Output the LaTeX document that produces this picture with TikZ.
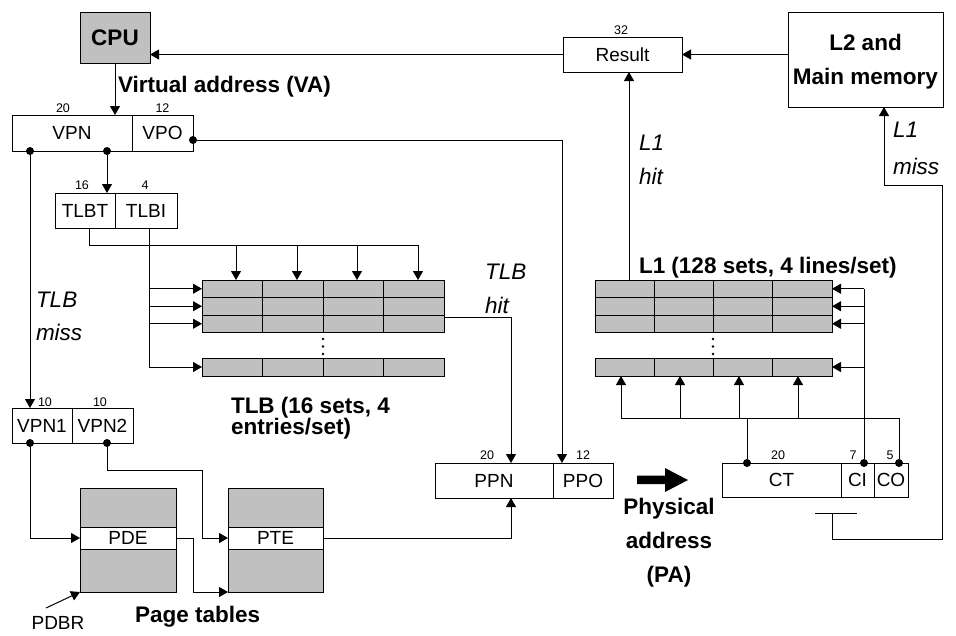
\documentclass[tikz,border=0pt]{standalone}
\usepackage{fontspec}
\setmainfont{Liberation Sans}
\usetikzlibrary{arrows.meta,calc}
\definecolor{cgray}{RGB}{192,192,192}
\newcommand\myreg{\fontsize{19}{22}\selectfont}
\newcommand\mynum{\fontsize{12.5}{14}\selectfont}
\newcommand\mybold{\fontsize{22.5}{27}\selectfont\bfseries}
\newcommand\myit{\fontsize{22.5}{26}\selectfont\itshape}
\begin{document}
\begin{tikzpicture}[x=1pt,y=-1pt,
  every node/.style={inner sep=0pt,outer sep=0pt,font=\myreg},
  box/.style={draw,line width=1pt,inner sep=0pt,anchor=center},
  ln/.style={line width=1pt},
  arr/.style={line width=1pt,-{Triangle[length=9pt,width=10pt]}},
  num/.style={font=\mynum},
  bld/.style={font=\mybold},
  itl/.style={font=\myit},
  dot/.style={circle,fill,inner sep=0pt,minimum size=8pt}]
\useasboundingbox (0,0) rectangle (956,635);

% ---------- boxes ----------
\node[box,fill=cgray,minimum width=70pt,minimum height=51pt,font=\mybold] (cpu) at (115,37.5) {CPU};
\node[box,minimum width=120pt,minimum height=36pt] (vpn) at (72,133) {VPN};
\node[box,minimum width=61pt,minimum height=36pt] (vpo) at (162.5,133) {VPO};
\node[box,minimum width=60pt,minimum height=35pt] (tlbt) at (85,210.5) {TLBT};
\node[box,minimum width=62pt,minimum height=35pt] (tlbi) at (146,210.5) {TLBI};
\node[box,minimum width=60pt,minimum height=35pt] (vpn1) at (42,425.5) {VPN1};
\node[box,minimum width=61pt,minimum height=35pt] (vpn2) at (102.5,425.5) {VPN2};
\node[box,minimum width=118pt,minimum height=35pt] (ppn) at (494,480.5) {PPN};
\node[box,minimum width=60pt,minimum height=35pt] (ppo) at (583,480.5) {PPO};
\node[box,minimum width=119pt,minimum height=34pt] (ct) at (781.5,480) {CT};
\node[box,minimum width=33pt,minimum height=34pt] (ci) at (857.5,480) {CI};
\node[box,minimum width=34pt,minimum height=34pt] (co) at (891,480) {CO};
\node[box,minimum width=119pt,minimum height=35pt] (result) at (622.5,54.5) {Result};
\node[box,minimum width=155pt,minimum height=95pt] (l2) at (865.5,59.5) {};
\node[align=center,font={\fontsize{22.5}{34}\selectfont\bfseries}] (l2t) at (865.5,62) {L2 and\\Main memory};

% page tables
\node[box,fill=cgray,minimum width=96pt,minimum height=104pt] (pdt) at (128,540) {};
\node[box,fill=white,minimum width=96pt,minimum height=22pt] (pde) at (128,538) {PDE};
\node[box,fill=cgray,minimum width=95pt,minimum height=104pt] (ptt) at (275.5,540) {};
\node[box,fill=white,minimum width=95pt,minimum height=22pt] (pte) at (275.5,538) {PTE};

% TLB rows
\node[box,fill=cgray,minimum width=242pt,minimum height=17.5pt] (t1) at (323,288.75) {};
\node[box,fill=cgray,minimum width=242pt,minimum height=17.5pt] (t2) at (323,306.25) {};
\node[box,fill=cgray,minimum width=242pt,minimum height=17.5pt] (t3) at (323,323.75) {};
\node[box,fill=cgray,minimum width=242pt,minimum height=18pt] (t4) at (323,367) {};
\foreach \x in {262,323,383}{
  \draw[ln] (\x,280) -- (\x,332.5);
  \draw[ln] (\x,358) -- (\x,376);}
\foreach \y in {339,346.5,354} \fill (323,\y) circle (1.3pt);

% L1 rows
\node[box,fill=cgray,minimum width=237pt,minimum height=17.5pt] (c1) at (713.5,288.75) {};
\node[box,fill=cgray,minimum width=237pt,minimum height=17.5pt] (c2) at (713.5,306.25) {};
\node[box,fill=cgray,minimum width=237pt,minimum height=17.5pt] (c3) at (713.5,323.75) {};
\node[box,fill=cgray,minimum width=237pt,minimum height=18pt] (c4) at (713.5,367) {};
\foreach \x in {654,713,772}{
  \draw[ln] (\x,280) -- (\x,332.5);
  \draw[ln] (\x,358) -- (\x,376);}
\foreach \y in {339,346.5,354} \fill (713,\y) circle (1.3pt);

% ---------- bit-width labels ----------
\node[num] (n1) at (63,108) {20};
\node[num] (n2) at (162.5,108) {12};
\node[num] (n3) at (82,185) {16};
\node[num] (n4) at (145,185) {4};
\node[num] (n5) at (45,402) {10};
\node[num] (n6) at (100,402) {10};
\node[num] (n7) at (487,455) {20};
\node[num] (n8) at (583,455) {12};
\node[num] (n9) at (778,455) {20};
\node[num] (n10) at (853,455) {7};
\node[num] (n11) at (890,455) {5};
\node[num] (n12) at (621,30) {32};

% ---------- text labels ----------
\node[bld,anchor=west] (va) at (118,87) {Virtual address (VA)};
\node[anchor=west,align=left,font={\fontsize{22.5}{33}\selectfont\itshape}] (tlbmiss) at (36,316.5) {TLB\\miss};
\node[anchor=west,align=left,font={\fontsize{22.5}{34}\selectfont\itshape}] (tlbhit) at (485,289) {TLB\\hit};
\node[anchor=west,align=left,font={\fontsize{22.5}{34}\selectfont\itshape}] (l1hit) at (639,160) {L1\\hit};
\node[anchor=west,align=left,font={\fontsize{22.5}{37}\selectfont\itshape}] (l1miss) at (893,148.5) {L1\\miss};
\node[bld,anchor=west] (l1t) at (639,268) {L1 (128 sets, 4 lines/set)};
\node[anchor=west,align=left,font={\fontsize{22.5}{21}\selectfont\bfseries}] (tlbt2) at (231,418.5) {TLB (16 sets, 4\\entries/set)};
\node[align=center,font={\fontsize{22.5}{34}\selectfont\bfseries}] (pa) at (669,543) {Physical\\address\\(PA)};
\node[bld,anchor=west] (ptl) at (135,617) {Page tables};
\node (pdbr) at (58,623) {PDBR};

% ---------- dots ----------
\node[dot] (dA) at (30,151) {};
\node[dot] (dB) at (107,151) {};
\node[dot] (dC) at (193,140) {};
\node[dot] (dD) at (30,443) {};
\node[dot] (dE) at (107,443) {};
\node[dot] (dF) at (747,463) {};
\node[dot] (dG) at (864,463) {};
\node[dot] (dH) at (899,463) {};

% ---------- helper coordinates ----------
\coordinate (tbA) at (89,245);
\coordinate (tbB) at (418,245);
\coordinate (tiA) at (149,367);
\coordinate (hitA) at (444,317);
\coordinate (ppnIn) at (511,463);
\coordinate (ppnUp) at (511,498);
\coordinate (ppoIn) at (562,463);
\coordinate (j1) at (202,470);
\coordinate (pdbrA) at (46,608);
\coordinate (l1hA) at (629,280);
\coordinate (ciTop) at (864,288.75);
\coordinate (coL) at (621,418);
\coordinate (ctTop) at (747,418);
\coordinate (cmpA) at (815,513);
\coordinate (cmpB) at (857,513);
\coordinate (cmpC) at (832,513);
\coordinate (mR) at (942,539);
\coordinate (mT) at (884,185);

% ---------- connectors ----------
\draw[arr] (result.west) -- (cpu.east |- result.west);
\draw[arr] (l2.west |- result.east) -- (result.east);
\draw[arr] (cpu.south) -- (vpn.north -| cpu.south);
\draw[arr] (dB) -- (tlbt.north -| dB);
\draw[arr] (dC) -| (ppoIn);
\draw[arr] (dA) -- (vpn1.north -| dA);

\draw[ln] (tlbt.south -| tbA) |- (tbB);
\foreach \x in {236,297,357,418} \draw[arr] (\x,245) -- (\x,280);
\draw[ln] (tlbi.south -| tiA) -- (tiA);
\draw[arr] (t1.west -| tiA) -- (t1.west);
\draw[arr] (t2.west -| tiA) -- (t2.west);
\draw[arr] (t3.west -| tiA) -- (t3.west);
\draw[arr] (tiA) -- (t4.west);

\draw[arr] (hitA) -| (ppnIn);
\draw[arr] (pte.east) -| (ppnUp);
\draw[arr] (dD) |- (pde.west);
\draw[arr] (dE) |- (j1) |- (pte.west);
\draw[arr] (pde.east) -- ($(pde.east)+(17,0)$) |- (ptt.south west);
\draw[arr] (pdbrA) -- (pdt.south west);

% L1
\draw[arr] (l1hA) -- (result.south -| l1hA);
\draw[ln] (dG) -- (ciTop);
\draw[arr] (c1.east -| ciTop) -- (c1.east);
\draw[arr] (c2.east -| ciTop) -- (c2.east);
\draw[arr] (c3.east -| ciTop) -- (c3.east);
\draw[arr] (c4.east -| ciTop) -- (c4.east);
\draw[ln] (dH) |- (coL);
\draw[ln] (dF) -- (ctTop);
\foreach \x in {621,680,739,798} \draw[arr] (\x,418) -- (\x,376);

% L1 miss
\draw[ln] (cmpA) -- (cmpB);
\draw[arr] (cmpC) |- (mR) |- (mT) -- (l2.south -| mT);

% PA arrow
\fill (637,475.5) -- (665,475.5) -- (665,468) -- (688,480) -- (665,492) -- (665,484) -- (637,484) -- cycle;
\end{tikzpicture}
\end{document}
